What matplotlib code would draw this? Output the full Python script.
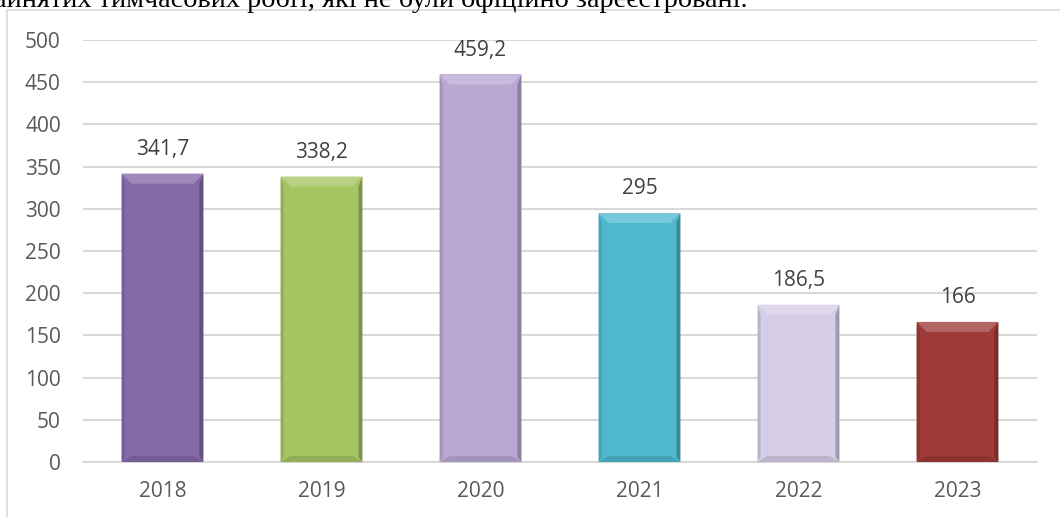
import matplotlib
matplotlib.use("Agg")
import matplotlib.pyplot as plt
from matplotlib.patches import Polygon
import matplotlib.colors as mcolors

years = ["2018", "2019", "2020", "2021", "2022", "2023"]
values = [341.7, 338.2, 459.2, 295, 186.5, 166]
colors = ["#8669A8", "#A5C462", "#BAA8D3", "#4FB8CF", "#D6CDE6", "#9E3A38"]
y_ticks = [0, 50, 100, 150, 200, 250, 300, 350, 400, 450, 500]
caption = "зайнятих тимчасових робіт, які не були офіційно зареєстровані."

W, H = 1060, 517
fig = plt.figure(figsize=(W / 100, H / 100), dpi=100)
fig.patch.set_facecolor("white")

# page caption (cut at top, as in the source page)
fig.text(-17 / W, 1 - 7 / H, caption, family="Liberation Serif", fontsize=20.3,
         color="black", ha="left", va="baseline")

# chart frame lines
fig.add_artist(plt.Line2D([7 / W, 1], [1 - 10 / H, 1 - 10 / H], color="#D9D9D9", lw=1.2))
fig.add_artist(plt.Line2D([7 / W, 7 / W], [0, 1 - 10 / H], color="#D9D9D9", lw=1.2))

ax = fig.add_axes([83 / W, (H - 462) / H, (1037 - 83) / W, (462 - 40) / H])
x = list(range(len(years)))
bw = 0.515
ax.bar(x, values, width=bw, color=colors, zorder=3, edgecolor="none")

# bevel effect
px_x = 1.0 / 159.0
px_y = 500.0 / 422.0
b = 10
for xi, v, c in zip(x, values, colors):
    rgb = mcolors.to_rgb(c)
    light = tuple(min(1, ch + (1 - ch) * 0.22) for ch in rgb)
    dark = tuple(ch * 0.75 for ch in rgb)
    dark2 = tuple(ch * 0.88 for ch in rgb)
    l, r = xi - bw / 2, xi + bw / 2
    dx, dy = b * px_x, b * px_y
    # top
    ax.add_patch(Polygon([(l, v), (r, v), (r - dx, v - dy), (l + dx, v - dy)],
                         closed=True, color=light, zorder=4, lw=0))
    # right
    ax.add_patch(Polygon([(r, v), (r, 0), (r - dx * 0.4, dy * 0.5), (r - dx * 0.4, v - dy)],
                         closed=True, color=dark, zorder=4, lw=0))
    # left
    ax.add_patch(Polygon([(l, v), (l, 0), (l + dx * 0.3, dy * 0.5), (l + dx * 0.3, v - dy)],
                         closed=True, color=dark2, zorder=4, lw=0))
    # bottom
    ax.add_patch(Polygon([(l, 0), (r, 0), (r - dx, dy * 0.6), (l + dx, dy * 0.6)],
                         closed=True, color=dark2, zorder=4, lw=0))
    ax.annotate(f"{v:g}".replace(".", ","), (xi, v), xytext=(0, 17.5),
                textcoords="offset points", ha="center", va="center",
                fontsize=15, color="#404040", family="Open Sans", zorder=5)

ax.set_xlim(-0.5, len(years) - 0.5)
ax.set_ylim(0, 500)
ax.set_yticks(y_ticks)
ax.set_yticklabels([str(t) for t in y_ticks])
ax.set_xticks(x)
ax.set_xticklabels(years)
ax.grid(axis="y", color="#D9D9D9", lw=1.5, zorder=0)
ax.set_axisbelow(True)
for s in ["top", "right", "left"]:
    ax.spines[s].set_visible(False)
ax.spines["bottom"].set_color("#D9D9D9")
ax.spines["bottom"].set_linewidth(1.5)
ax.tick_params(axis="both", length=0, labelsize=15, labelcolor="#595959")
ax.tick_params(axis="y", pad=16)
ax.tick_params(axis="x", pad=14)
for lbl in ax.get_xticklabels() + ax.get_yticklabels():
    lbl.set_family("Open Sans")

fig.savefig("out.png", dpi=100)
